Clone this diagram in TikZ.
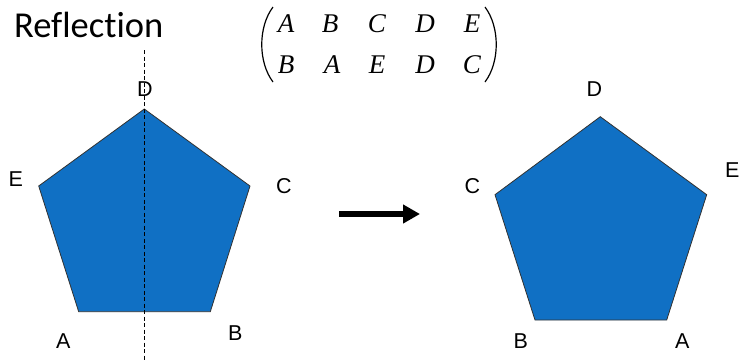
\documentclass[tikz,border=0pt]{standalone}
\usepackage{fontspec}
\setmainfont{Liberation Sans}
\newfontfamily\titlefont[Ligatures=NoCommon]{Carlito}
\newfontfamily\matfont{Liberation Serif}
\usetikzlibrary{arrows.meta}
\definecolor{pentblue}{RGB}{16,112,196}
\definecolor{edgegrey}{RGB}{50,50,50}
\tikzset{
  pent/.style={fill=pentblue,draw=edgegrey,line width=0.8pt,line join=miter},
  vlabel/.style={anchor=base,inner sep=0pt,font=\fontsize{21.5}{21.5}\selectfont},
  mentry/.style={anchor=base,inner sep=0pt,font=\matfont\itshape\fontsize{27}{27}\selectfont},
  paren/.style={line width=1.2pt},
  axis/.style={dashed,dash pattern=on 4pt off 2.5pt,line width=0.7pt},
  bigarrow/.style={line width=6pt,-{Triangle[length=17pt,width=18pt]}}
}
\begin{document}
\begin{tikzpicture}[x=1pt,y=-1pt]
\useasboundingbox (0,0) rectangle (740,360);
% title
\node[anchor=base west,inner sep=0pt,font=\titlefont\fontsize{36.5}{36.5}\selectfont] (title) at (14,37) {Reflection};
% matrix entries
\node[mentry] (m11) at (286,32) {A};
\node[mentry] (m12) at (330,32) {B};
\node[mentry] (m13) at (377,32) {C};
\node[mentry] (m14) at (425,32) {D};
\node[mentry] (m15) at (472,32) {E};
\node[mentry] (m21) at (286,73) {B};
\node[mentry] (m22) at (332,73) {A};
\node[mentry] (m23) at (377,73) {E};
\node[mentry] (m24) at (425,73) {D};
\node[mentry] (m25) at (472,73) {C};
\draw[paren] (273,7) .. controls (258,27) and (258,62) .. (273,82);
\draw[paren] (485,7) .. controls (500,27) and (500,62) .. (485,82);
% left pentagon
\coordinate (LD) at (144.3,109);
\coordinate (LC) at (250,186);
\coordinate (LB) at (210.3,311.7);
\coordinate (LA) at (78.7,311.7);
\coordinate (LE) at (38.7,186);
\draw[pent] (LD) -- (LC) -- (LB) -- (LA) -- (LE) -- cycle;
\coordinate (axtop) at (144.3,50);
\coordinate (axbot) at (144.3,360);
\draw[axis] (axtop) -- (axbot);
\node[vlabel] (lD) at (145,96) {D};
\node[vlabel] (lE) at (15.7,186) {E};
\node[vlabel] (lC) at (284,193) {C};
\node[vlabel] (lA) at (63.3,348) {A};
\node[vlabel] (lB) at (235.3,340) {B};
% arrow
\coordinate (arrS) at (339,214);
\coordinate (arrE) at (420,214);
\draw[bigarrow] (arrS) -- (arrE);
% right pentagon
\coordinate (RD) at (600.3,116.7);
\coordinate (RE) at (706.7,194.7);
\coordinate (RA) at (666.7,320);
\coordinate (RB) at (535,320);
\coordinate (RC) at (495,194.7);
\draw[pent] (RD) -- (RE) -- (RA) -- (RB) -- (RC) -- cycle;
\node[vlabel] (rD) at (594.3,96) {D};
\node[vlabel] (rE) at (732.3,177) {E};
\node[vlabel] (rC) at (472.3,193) {C};
\node[vlabel] (rB) at (520.7,348) {B};
\node[vlabel] (rA) at (682.3,348) {A};
\end{tikzpicture}
\end{document}
